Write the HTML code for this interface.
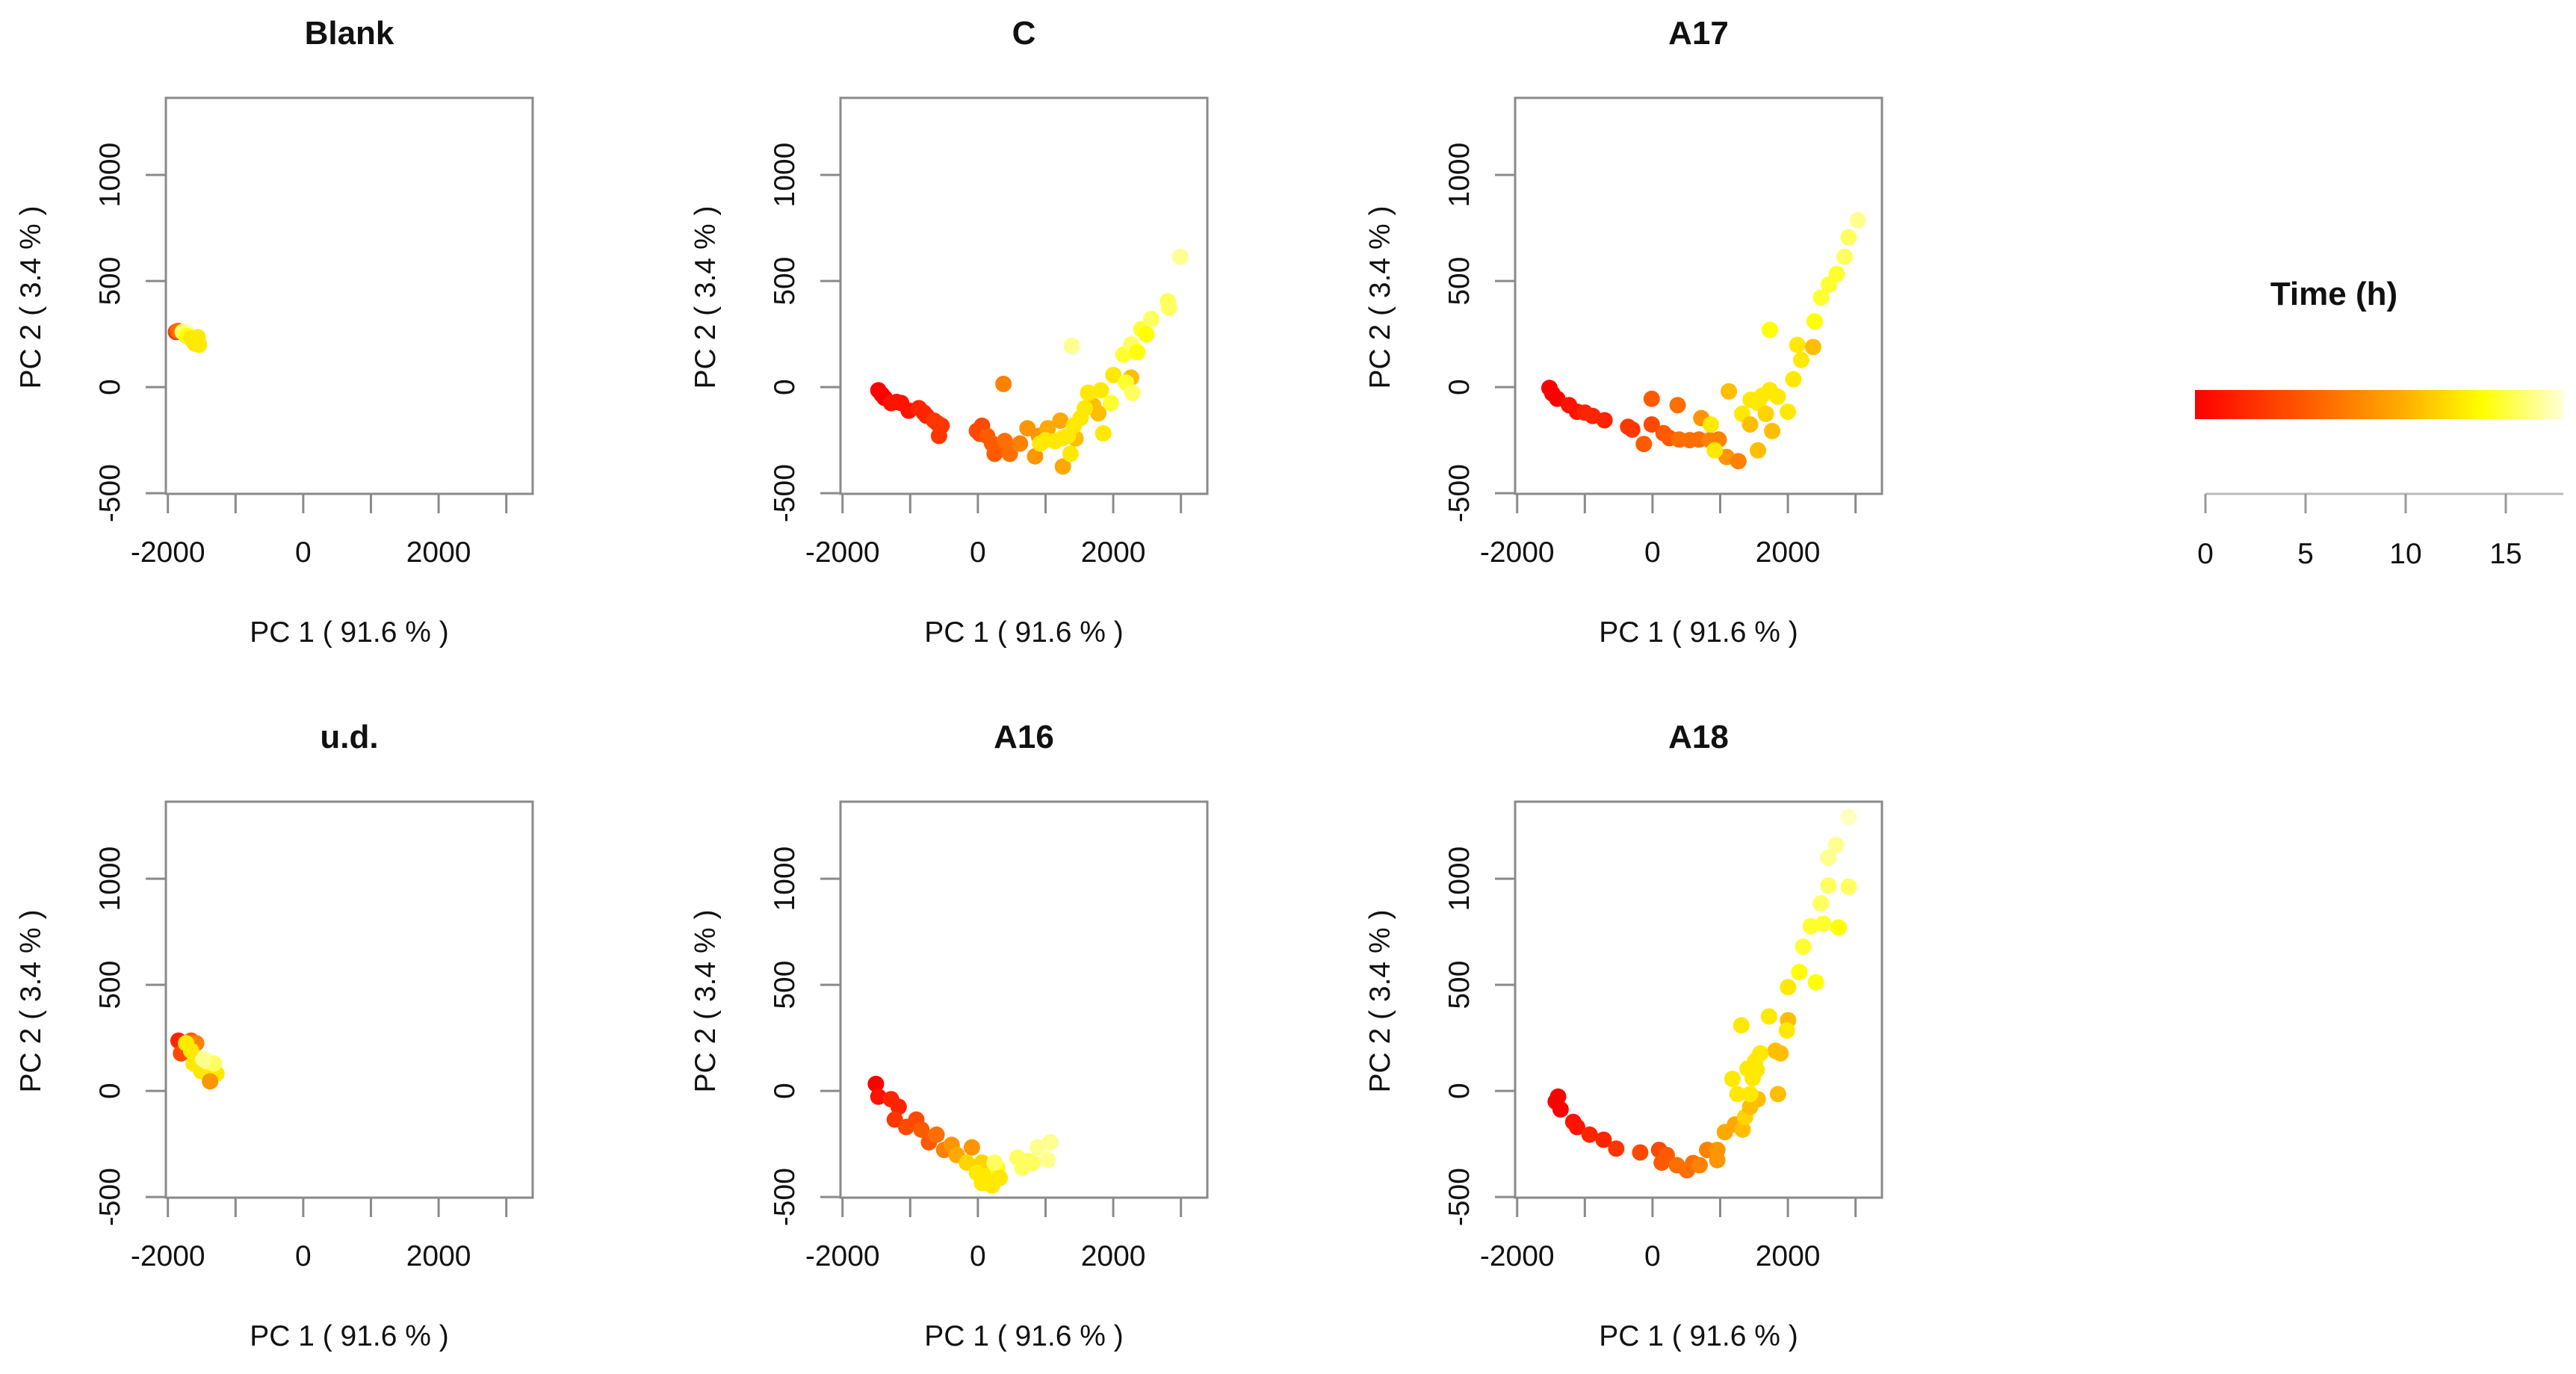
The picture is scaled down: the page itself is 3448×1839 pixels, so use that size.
<!DOCTYPE html>
<html><head><meta charset="utf-8"><style>
html,body{margin:0;padding:0;background:#fff}
svg text{font-family:"Liberation Sans",sans-serif;fill:#111}
</style></head><body>
<svg id="chart" width="3448" height="1834" xmlns="http://www.w3.org/2000/svg">
<defs><linearGradient id="heat" x1="0" x2="1" y1="0" y2="0">
<stop offset="0" stop-color="#ff0000"/><stop offset="0.3" stop-color="#ff5a00"/><stop offset="0.55" stop-color="#ffa800"/><stop offset="0.78" stop-color="#ffff00"/><stop offset="1" stop-color="#ffffd8"/>
</linearGradient></defs>
</svg>
<script>
const panelNames = ["Blank","C","A17","u.d.","A16","A18"];
const xTicks = [-2000,-1000,0,1000,2000,3000];
const xTickLabels = ["-2000","","0","","2000",""];
const yTicks = [-500,0,500,1000];
const yTickLabels = ["-500","0","500","1000"];
const legendTicks = [0,5,10,15];
// [pc1, pc2, time]
const blankPts = [[-1880,260,3],[-1850,265,6],[-1780,260,15],[-1700,250,16],[-1720,240,13],[-1650,230,12],[-1560,235,12],[-1540,200,12],[-1600,205,12],[-1620,215,12]];
const cPts = [[-1470,-15,0],[-1420,-35,0],[-1377,-51,0],[-1283,-75,1],[-1200,-70,1],[-1134,-75,1],[-1022,-111,1],[-872,-99,2],[-800,-120,2],[-760,-135,2],[-648,-158,3],[-600,-170,3],[-536,-182,3],[-574,-230,3],[-14,-206,4],[30,-220,4],[61,-182,4],[136,-230,5],[210,-266,5],[248,-314,5],[300,-280,5],[397,-254,6],[472,-314,6],[378,15,7],[621,-266,7],[733,-194,8],[845,-326,8],[900,-230,8],[1032,-194,9],[1219,-158,9],[1256,-374,9],[1443,-242,10],[1704,-87,10],[1779,-123,10],[2264,45,10],[920,-266,12],[1000,-250,12],[1144,-254,12],[1250,-240,12],[1331,-230,12],[1368,-314,12],[1420,-180,12],[1517,-146,12],[1580,-100,12],[1629,-27,12],[1816,-15,12],[1853,-218,12],[2003,57,12],[1965,-75,14],[2189,21,14],[2283,-27,15],[2152,153,14],[2264,201,15],[2357,165,13],[2414,273,14],[2488,249,13],[2563,321,15],[2806,405,15],[2824,375,15],[2992,614,16],[1387,195,16]];
const a17Pts = [[-1523,-4,0],[-1480,-30,0],[-1407,-55,0],[-1233,-85,1],[-1116,-116,1],[-1000,-120,2],[-884,-136,2],[-709,-156,2],[-360,-187,3],[-300,-200,3],[-12,-55,5],[372,-85,6],[-12,-176,4],[-128,-268,5],[163,-217,5],[250,-240,5],[395,-247,6],[550,-250,6],[686,-247,6],[721,-146,8],[850,-250,7],[977,-247,7],[1093,-329,8],[1268,-349,7],[1128,-20,10],[861,-176,12],[919,-298,12],[1326,-126,12],[1450,-60,12],[1558,-75,12],[1620,-40,12],[1733,-14,12],[1849,-45,12],[1675,-126,11],[1768,-207,10],[1558,-298,10],[1442,-176,10],[2000,-116,12],[2082,37,12],[2140,199,12],[1733,270,13],[2198,128,12],[2373,189,10],[2396,310,13],[2490,422,14],[2606,483,14],[2722,533,14],[2838,614,15],[2896,706,15],[3036,787,16]];
const udPts = [[-1843,237,2],[-1806,177,4],[-1657,237,5],[-1582,225,7],[-1731,225,12],[-1657,189,12],[-1619,129,12],[-1507,93,12],[-1283,81,12],[-1377,45,8],[-1432,141,16],[-1321,129,15],[-1480,150,16]];
const a16Pts = [[-1507,33,0],[-1470,-27,1],[-1283,-39,2],[-1171,-75,2],[-1227,-135,3],[-1059,-170,4],[-910,-135,4],[-835,-182,5],[-723,-242,5],[-611,-206,6],[-499,-278,7],[-387,-254,8],[-312,-302,9],[-88,-266,8],[-163,-338,11],[61,-338,11],[-14,-386,12],[61,-434,12],[130,-400,12],[210,-446,12],[285,-362,13],[248,-338,15],[322,-410,12],[584,-314,15],[658,-362,15],[740,-330,15],[808,-338,15],[882,-266,16],[1069,-242,16],[1032,-326,16]];
const a18Pts = [[-1395,-27,0],[-1358,-87,0],[-1430,-50,0],[-1171,-146,1],[-1115,-170,1],[-929,-206,2],[-723,-230,2],[-536,-272,3],[-182,-290,4],[98,-278,4],[210,-302,5],[136,-338,5],[360,-350,6],[509,-374,6],[600,-340,6],[696,-350,7],[808,-278,7],[957,-278,8],[957,-326,8],[1069,-194,9],[1219,-158,9],[1331,-182,10],[1368,-123,11],[1443,-75,10],[1555,-39,10],[1854,-15,10],[1816,189,10],[1891,177,10],[2003,333,10],[1181,57,12],[1256,-15,12],[1443,-15,12],[1405,105,12],[1517,141,12],[1592,177,12],[1480,60,12],[1540,100,12],[1312,309,12],[1722,351,12],[1985,285,12],[2003,489,12],[2170,560,13],[2414,512,13],[2227,680,14],[2338,776,14],[2526,788,14],[2750,770,13],[2488,884,15],[2600,968,15],[2899,962,15],[2600,1099,16],[2712,1159,16],[2899,1291,17]];
const panelData = [blankPts,cPts,a17Pts,udPts,a16Pts,a18Pts];

const NS="http://www.w3.org/2000/svg";
const svg=document.getElementById('chart');
function mk(tag,attrs,parent){const e=document.createElementNS(NS,tag);for(const k in attrs)e.setAttribute(k,attrs[k]);(parent||svg).appendChild(e);return e;}
const stops=[[0,[255,0,0]],[5,[255,90,0]],[9,[255,168,0]],[13,[255,255,0]],[17.5,[255,255,216]]];
function heat(t){for(let i=0;i<stops.length-1;i++){const a=stops[i],b=stops[i+1];if(t<=b[0]||i==stops.length-2){const f=Math.max(0,Math.min(1,(t-a[0])/(b[0]-a[0])));const c=a[1].map((v,j)=>Math.round(v+(b[1][j]-v)*f));return `rgb(${c[0]},${c[1]},${c[2]})`;}}}
const BW=491,BH=530,XMIN=-2030,XMAX=3390,YMIN=-503,YMAX=1363;
panelNames.forEach((name,i)=>{
  const L=222+(i%3)*903, T=131+Math.floor(i/3)*942;
  const xs=v=>L+(v-XMIN)/(XMAX-XMIN)*BW, ys=v=>T+(YMAX-v)/(YMAX-YMIN)*BH;
  const g=mk('g',{});
  
  
  const t=mk('text',{x:L+BW/2,y:T-72,'text-anchor':'middle','font-size':44,'font-weight':'bold'},g);t.textContent=name;
  
  const box=mk('rect',{x:L,y:T,width:BW,height:BH,fill:'none',stroke:'#8a8a8a','stroke-width':3},g);
  
  mk('line',{x1:xs(-2000),x2:xs(3000),y1:T+BH,y2:T+BH,stroke:'#8a8a8a','stroke-width':3},g);
  xTicks.forEach((v,k)=>{mk('line',{x1:xs(v),x2:xs(v),y1:T+BH,y2:T+BH+26,stroke:'#8a8a8a','stroke-width':3},g);
    if(xTickLabels[k]){const tl=mk('text',{x:xs(v),y:T+BH+91,'text-anchor':'middle','font-size':39},g);tl.textContent=xTickLabels[k];
    }});
  mk('line',{x1:L,x2:L,y1:ys(-500),y2:ys(1000),stroke:'#8a8a8a','stroke-width':3},g);
  yTicks.forEach((v,k)=>{mk('line',{x1:L-27,x2:L,y1:ys(v),y2:ys(v),stroke:'#8a8a8a','stroke-width':3},g);
    const tl=mk('text',{transform:`translate(${L-62},${ys(v)}) rotate(-90)`,'text-anchor':'middle','font-size':39},g);tl.textContent=yTickLabels[k];
    });
  const xl=mk('text',{x:L+BW/2,y:T+BH+198,'text-anchor':'middle','font-size':39},g);xl.textContent='PC 1 ( 91.6 % )';
  
  const yl=mk('text',{transform:`translate(${L-168},${T+BH/2+2}) rotate(-90)`,'text-anchor':'middle','font-size':39},g);yl.textContent='PC 2 ( 3.4 % )';
  
  panelData[i].forEach(p=>{const c=mk('circle',{cx:xs(p[0]),cy:ys(p[1]),r:11,fill:heat(p[2])},g);
    });
});
// legend
const lg=mk('g',{});


const lt=mk('text',{x:3124,y:408,'text-anchor':'middle','font-size':44,'font-weight':'bold'},lg);lt.textContent='Time (h)';

const cb=mk('rect',{x:2938,y:522,width:493,height:39,fill:'url(#heat)'},lg);

const lx=v=>2952+v*26.8;
mk('line',{x1:lx(0),x2:3431,y1:661,y2:661,stroke:'#bbb','stroke-width':3},lg);
legendTicks.forEach(v=>{mk('line',{x1:lx(v),x2:lx(v),y1:661,y2:687,stroke:'#999','stroke-width':3},lg);
  const tl=mk('text',{x:lx(v),y:754,'text-anchor':'middle','font-size':39},lg);tl.textContent=String(v);
  });
</script>
</body></html>
